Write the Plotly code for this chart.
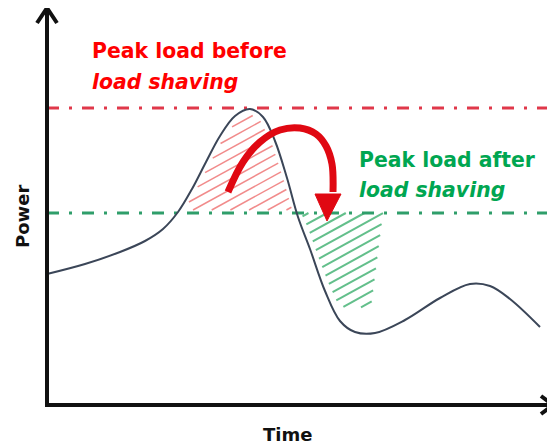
import numpy as np
import plotly.graph_objects as go

# ---- data (time units ~ horizontal, power units ~ vertical) ----
time = [47, 85, 120, 145, 163, 178, 192, 206, 220, 235, 250, 263, 275, 287, 298, 310, 325,
        340, 355, 375, 405, 440, 470, 490, 510, 540]
power = [174, 184, 196, 207, 219, 236, 259, 286, 312, 332, 339, 331, 307, 270, 231, 199, 157,
         127, 116, 115, 128, 150, 164, 162, 149, 121]

peak_before = 340
peak_after = 235

# green shaded region (energy shifted)
after_time = [301, 383, 371, 345, 337, 328, 318, 308]
after_power = [235, 235, 141, 140, 146, 166, 192, 220]

# curved arrow
arrow_time = [228, 243, 260, 280, 300, 316, 326, 332, 333]
arrow_power = [256, 286, 306, 318, 320, 314, 302, 284, 256]
head_time = [315, 341, 327, 315]
head_power = [254, 254, 227, 254]

X0, X1, Y0, Y1 = 47, 553, 43, 440


def hatch(px, py, slope, spacing):
    pts = list(zip(px, py))
    n = len(pts)
    xs, ys = [], []
    cs = [y - slope * x for x, y in pts]
    step = spacing * np.sqrt(1 + slope ** 2)
    c = min(cs) + step / 2
    while c < max(cs):
        inter = []
        for i in range(n):
            (x1, y1), (x2, y2) = pts[i], pts[(i + 1) % n]
            f1 = y1 - slope * x1 - c
            f2 = y2 - slope * x2 - c
            if (f1 > 0) != (f2 > 0):
                t = f1 / (f1 - f2)
                inter.append(x1 + t * (x2 - x1))
        inter.sort()
        for k in range(0, len(inter) - 1, 2):
            a, b = inter[k], inter[k + 1]
            xs += [a, b, None]
            ys += [slope * a + c, slope * b + c, None]
        c += step
    return xs, ys


# red region: under curve, above post-shaving line
t_fine = np.linspace(time[0], time[-1], 800)
p_fine = np.interp(t_fine, time, power)
mask = p_fine >= peak_after
rt = list(t_fine[mask])
rp = list(p_fine[mask])
half = len(rt) // 2
red_x, red_y = hatch([rt[0] + 6] + [t + 3 for t in rt[1:half]] + [t - 3 for t in rt[half:-1]] + [rt[-1] - 4],
                     [peak_after + 3] + [p - 3 for p in rp[1:-1]] + [peak_after + 3],
                     0.55, 9)
green_x, green_y = hatch(after_time, after_power, 0.55, 9)

fig = go.Figure()
fig.add_trace(go.Scatter(x=red_x, y=red_y, mode="lines",
                         line=dict(color="rgba(235,90,90,0.7)", width=1.5), hoverinfo="skip"))
fig.add_trace(go.Scatter(x=green_x, y=green_y, mode="lines",
                         line=dict(color="rgba(60,175,110,0.8)", width=2), hoverinfo="skip"))
# reference lines
fig.add_trace(go.Scatter(x=[X0, 555], y=[peak_before, peak_before], mode="lines",
                         line=dict(color="#e0384a", width=3, dash="12px,10px,3px,10px")))
fig.add_trace(go.Scatter(x=[X0, 555], y=[peak_after, peak_after], mode="lines",
                         line=dict(color="#2f9e6a", width=3, dash="12px,10px,3px,10px")))
# load curve
fig.add_trace(go.Scatter(x=time, y=power, mode="lines",
                         line=dict(color="#3b4658", width=2, shape="spline", smoothing=1.0)))
# arrow
fig.add_trace(go.Scatter(x=arrow_time, y=arrow_power, mode="lines",
                         line=dict(color="#e00812", width=7, shape="spline")))
fig.add_trace(go.Scatter(x=head_time, y=head_power, mode="lines", fill="toself",
                         fillcolor="#e00812", line=dict(color="#e00812", width=1)))
# axes
fig.add_trace(go.Scatter(x=[X0, X0, X1], y=[Y1, Y0, Y0], mode="lines",
                         line=dict(color="#111111", width=4)))
fig.add_trace(go.Scatter(x=[X0 - 10, X0, X0 + 10], y=[Y1 - 15, Y1, Y1 - 15], mode="lines",
                         line=dict(color="#111111", width=4)))
fig.add_trace(go.Scatter(x=[X1 - 12, X1, X1 - 12], y=[Y0 + 9, Y0, Y0 - 9], mode="lines",
                         line=dict(color="#111111", width=4)))

font = "DejaVu Sans"
red = "#ff0000"
green = "#00a651"
annots = [
    dict(x=90, y=397, text="<b>Peak load before</b>", color=red),
    dict(x=90, y=366, text="<b><i>load shaving</i></b>", color=red),
    dict(x=357, y=288, text="<b>Peak load after</b>", color=green),
    dict(x=357, y=258, text="<b><i>load shaving</i></b>", color=green),
]
for a in annots:
    fig.add_annotation(x=a["x"], y=a["y"], text=a["text"], showarrow=False, xanchor="left",
                       yanchor="middle", font=dict(family=font, size=20.4, color=a["color"]))
fig.add_annotation(x=22, y=231, text="<b>Power</b>", textangle=-90, showarrow=False,
                   font=dict(family=font, size=18, color="#111111"))
fig.add_annotation(x=287, y=14, text="<b>Time</b>", showarrow=False,
                   font=dict(family=font, size=18, color="#111111"))

# page body has an 8px margin: the figure spans page pixels 8..555 x 8..448
fig.update_layout(width=547, height=440, margin=dict(l=0, r=0, t=0, b=0),
                  showlegend=False, plot_bgcolor="white", paper_bgcolor="white",
                  xaxis=dict(range=[8, 555], visible=False, fixedrange=True),
                  yaxis=dict(range=[0, 440], visible=False, fixedrange=True))
fig.write_html("out.html")
